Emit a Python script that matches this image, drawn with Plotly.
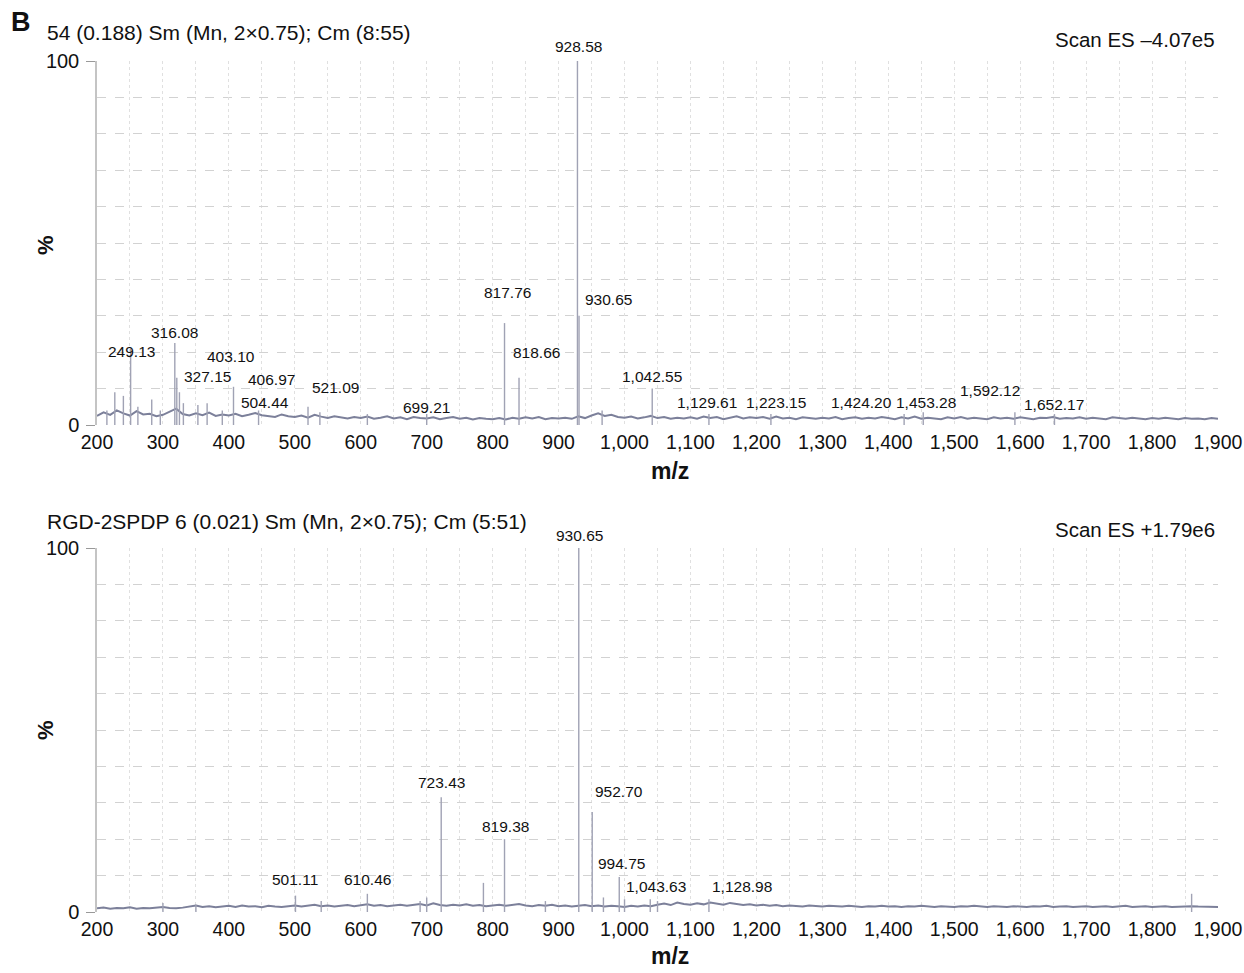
import plotly.graph_objects as go

W, H = 1244, 973

# ---------------- data ----------------
mz_ticks = [200, 300, 400, 500, 600, 700, 800, 900, 1000, 1100, 1200, 1300,
            1400, 1500, 1600, 1700, 1800, 1900]
tick_text = [f"{v:,}" for v in mz_ticks]

# baseline noise, sampled every 10 m/z from 200 to 1900 (hand-read levels, %)
noise_mz = list(range(200, 1901, 10))
top_noise = [
    2.5, 3.5, 2.8, 4.0, 3.2, 2.6, 3.8, 2.9, 3.1, 2.4,
    2.8, 3.6, 4.5, 3.0, 2.6, 3.2, 2.7, 3.4, 2.5, 2.9,
    2.6, 3.1, 2.4, 2.8, 3.3, 2.7, 2.5, 2.2, 2.9, 2.4,
    2.2, 2.6, 2.0, 2.8, 2.3, 1.9, 2.4, 2.1, 1.8, 2.2,
    1.9, 2.3, 1.7, 2.0, 2.4, 1.8, 2.1, 1.6, 2.2, 1.9,
    1.8, 2.1, 1.6, 1.9, 2.2, 1.7, 2.0, 1.5, 1.9, 1.7,
    1.6, 1.9, 1.5, 2.0, 1.7, 2.1, 1.8, 2.2, 1.6, 1.9,
    1.8, 2.0, 1.7, 2.4, 1.9, 2.6, 3.2, 2.5, 2.8, 2.2,
    2.0, 2.3, 1.8, 2.1, 2.5, 1.9, 2.2, 1.7, 2.0, 1.8,
    2.1, 1.7, 2.3, 1.9, 2.2, 1.6, 2.0, 2.4, 1.8, 2.1,
    1.9, 2.2, 1.7, 2.3, 1.8, 2.0, 1.6, 2.1, 1.9, 1.7,
    2.0, 1.8, 2.2, 1.6, 1.9, 2.1, 1.7, 2.0, 1.8, 2.2,
    1.9, 1.6, 2.1, 1.8, 2.3, 1.7, 2.0, 1.9, 1.6, 2.1,
    1.8, 2.2, 1.7, 2.0, 1.9, 1.6, 2.1, 1.8, 2.0, 1.7,
    2.1, 1.8, 1.6, 2.0, 1.9, 2.2, 1.7, 1.9, 1.8, 2.1,
    1.7, 2.0, 1.8, 1.6, 2.1, 1.9, 1.7, 2.0, 1.8, 1.6,
    1.9, 1.7, 2.0, 1.8, 1.6, 1.9, 1.7, 1.8, 1.6, 1.9,
    1.7,
]
bot_noise = [
    1.0, 1.2, 0.9, 1.1, 1.0, 1.3, 0.9, 1.1, 1.0, 1.2,
    1.4, 1.1, 1.0, 1.2, 1.5, 1.8, 1.4, 1.6, 1.3, 1.5,
    1.7, 1.4, 1.8, 1.5, 1.6, 1.3, 1.7, 1.5, 1.4, 1.6,
    1.8, 1.5, 1.7, 2.0, 1.6, 1.8, 1.5, 1.7, 1.9, 1.6,
    1.8, 2.1, 1.7, 1.9, 1.6, 1.8, 2.0, 1.7, 1.9, 2.2,
    1.8, 2.4, 1.9, 1.7, 2.0, 1.8, 2.1, 1.7, 1.9, 1.6,
    1.8, 2.0, 1.7, 1.9, 2.2, 1.8, 1.6, 1.9, 1.7, 2.0,
    1.6, 1.8, 1.5, 1.7, 1.9, 1.6, 1.8, 1.5, 1.7, 1.6,
    1.4, 1.7, 1.5, 1.8, 1.6, 2.0, 2.3, 1.9, 2.6, 2.2,
    2.0, 2.4, 2.1, 2.6, 2.3, 2.0, 2.5, 2.2, 1.9, 2.1,
    1.8, 2.0, 1.7, 1.9, 1.6, 1.8, 1.7, 1.5, 1.8, 1.6,
    1.5, 1.7, 1.6, 1.5, 1.7, 1.6, 1.4, 1.6, 1.5, 1.7,
    1.5, 1.6, 1.4, 1.6, 1.5, 1.7, 1.5, 1.4, 1.6, 1.5,
    1.4, 1.6, 1.5, 1.7, 1.5, 1.4, 1.6, 1.5, 1.4, 1.6,
    1.5, 1.4, 1.6, 1.5, 1.7, 1.4, 1.5, 1.6, 1.4, 1.5,
    1.6, 1.4, 1.5, 1.6, 1.4, 1.5, 1.7, 1.4, 1.5, 1.6,
    1.4, 1.5, 1.6, 1.4, 1.5, 1.4, 1.6, 1.5, 1.4, 1.5,
    1.4,
]

# peaks (m/z, relative intensity %)
top_peak_mz = [215, 227, 240, 251, 262, 283, 296, 318, 321, 325, 331, 353, 367,
               390, 407, 445, 520, 538, 610, 700, 818, 840, 928.6, 931, 966,
               1042, 1128, 1222, 1424, 1453, 1592, 1652]
top_peak_int = [4, 9, 8, 21, 5, 7, 4, 22.5, 13, 9, 6, 5.5, 6,
                4, 10.5, 4, 5, 3.5, 3, 3, 28, 13, 100, 30, 4,
                10, 3, 3, 3, 3.5, 3.5, 3]

bot_peak_mz = [300, 350, 501, 540, 610, 690, 700, 722, 786, 818, 880, 930.6,
               951, 968, 992, 1000, 1039, 1050, 1128, 1860]
bot_peak_int = [2.5, 2, 4.5, 3, 5, 3, 4, 31.5, 8, 20, 3, 100,
                27.5, 4, 9.6, 3.5, 3.5, 3, 3.5, 5]

# peak labels: text, position (m/z, %)
top_lbl_text = ["928.58", "930.65", "817.76", "818.66", "316.08", "249.13",
                "403.10", "327.15", "406.97", "521.09", "504.44", "699.21",
                "1,042.55", "1,129.61", "1,223.15", "1,424.20", "1,453.28",
                "1,592.12", "1,652.17"]
top_lbl_x = [929.5, 975, 823, 866, 318, 252, 403, 368, 464, 561, 455, 700,
             1042, 1125, 1230, 1359, 1457, 1554, 1651]
top_lbl_y = [104.1, 34.6, 36.5, 19.8, 25.3, 20.1, 18.7, 13.2, 12.4, 10.4, 6.3,
             4.9, 13.2, 6.3, 6.3, 6.3, 6.3, 9.6, 5.5]

bot_lbl_text = ["930.65", "723.43", "952.70", "819.38", "994.75", "1,043.63",
                "501.11", "610.46", "1,128.98"]
bot_lbl_x = [931, 722, 992, 819, 995, 1048, 500, 610, 1178]
bot_lbl_y = [103.3, 35.7, 33.2, 23.6, 13.2, 6.9, 8.8, 8.8, 6.9]

top_header = "54 (0.188) Sm (Mn, 2×0.75); Cm (8:55)"
top_scan = "Scan ES –4.07e5"
bot_header = "RGD-2SPDP 6 (0.021) Sm (Mn, 2×0.75); Cm (5:51)"
bot_scan = "Scan ES +1.79e6"

# ---------------- figure ----------------
FONT = "Liberation Sans, Arial, sans-serif"
SPEC = "#a0a2b4"
NOISE = "#7c809a"


def px_x(p):
    return p / W


def px_y(p):
    return 1 - p / H


def sticks(mz, inten):
    xs, ys = [], []
    for m, i in zip(mz, inten):
        xs += [m, m, None]
        ys += [0, i, None]
    return xs, ys


fig = go.Figure()

for (pmz, pint, noise, xa, ya) in [
    (top_peak_mz, top_peak_int, top_noise, "x", "y"),
    (bot_peak_mz, bot_peak_int, bot_noise, "x2", "y2"),
]:
    fig.add_trace(go.Scatter(x=noise_mz, y=noise, mode="lines",
                             line=dict(color=NOISE, width=2),
                             xaxis=xa, yaxis=ya, hoverinfo="skip",
                             showlegend=False))
    xs, ys = sticks(pmz, pint)
    fig.add_trace(go.Scatter(x=xs, y=ys, mode="lines",
                             line=dict(color=SPEC, width=1.4),
                             xaxis=xa, yaxis=ya, hoverinfo="skip",
                             showlegend=False))

xdom = [px_x(97), px_x(1218)]
top_dom = [px_y(425), px_y(61)]
bot_dom = [px_y(912), px_y(548)]
GRID = "#d2d2d2"
GRIDV = "#e0e0e0"

xcommon = dict(range=[200, 1900], tickmode="array", tickvals=mz_ticks,
               ticktext=tick_text, showgrid=True, gridcolor=GRIDV,
               griddash="dot", gridwidth=1, zeroline=False, showline=False,
               ticks="", automargin=False, ticklabelstandoff=3,
               tickfont=dict(family=FONT, size=19.5, color="#111"),
               minor=dict(dtick=50, tick0=200, showgrid=True,
                          gridcolor=GRIDV, griddash="dot", gridwidth=1))
ycommon = dict(range=[0, 100], tickmode="array", tickvals=[0, 100],
               ticktext=["0", "100"], showgrid=True, gridcolor=GRID,
               griddash="dash", gridwidth=1, zeroline=False,
               showline=True, linecolor="#c4c4c4", linewidth=1.5,
               ticks="outside", ticklen=9, tickcolor="#999",
               automargin=False, ticklabelstandoff=3,
               tickfont=dict(family=FONT, size=20, color="#111"),
               minor=dict(dtick=10, tick0=0, showgrid=True, gridcolor=GRID,
                          griddash="dash", gridwidth=1))

fig.update_layout(
    width=W, height=H,
    margin=dict(l=0, r=0, t=0, b=0),
    paper_bgcolor="white", plot_bgcolor="white",
    xaxis=dict(domain=xdom, anchor="y", **xcommon),
    yaxis=dict(domain=top_dom, anchor="x", **ycommon),
    xaxis2=dict(domain=xdom, anchor="y2", **xcommon),
    yaxis2=dict(domain=bot_dom, anchor="x2", **ycommon),
)

ann = []
ann.append(dict(text="<b>B</b>", x=px_x(21), y=px_y(22), xref="paper",
                yref="paper", xanchor="center", yanchor="middle",
                showarrow=False, font=dict(family=FONT, size=27, color="#111")))
for txt, yc in [(top_header, 33), (bot_header, 521)]:
    ann.append(dict(text=txt, x=px_x(45), y=px_y(yc), xref="paper",
                    yref="paper", xanchor="left", yanchor="middle",
                    showarrow=False,
                    font=dict(family=FONT, size=21, color="#111")))
for txt, yc in [(top_scan, 39), (bot_scan, 529)]:
    ann.append(dict(text=txt, x=px_x(1217), y=px_y(yc), xref="paper",
                    yref="paper", xanchor="right", yanchor="middle",
                    showarrow=False,
                    font=dict(family=FONT, size=20.5, color="#111")))
# axis titles
for yc in [245, 730]:
    ann.append(dict(text="<b>%</b>", x=px_x(45), y=px_y(yc), xref="paper",
                    yref="paper", xanchor="center", yanchor="middle",
                    textangle=-90, showarrow=False,
                    font=dict(family=FONT, size=22, color="#111")))
for yc in [471, 956]:
    ann.append(dict(text="<b>m/z</b>", x=px_x(670), y=px_y(yc), xref="paper",
                    yref="paper", xanchor="center", yanchor="middle",
                    showarrow=False,
                    font=dict(family=FONT, size=23, color="#111")))

# peak labels: x on the m/z axis, y converted from % into paper units so
# labels above 100 % stay visible
for texts, xs, ys, xr, dom in [
    (top_lbl_text, top_lbl_x, top_lbl_y, "x", top_dom),
    (bot_lbl_text, bot_lbl_x, bot_lbl_y, "x2", bot_dom),
]:
    for t, x, y in zip(texts, xs, ys):
        yp = dom[0] + (dom[1] - dom[0]) * y / 100.0
        ann.append(dict(text=t, x=x, y=yp, xref=xr, yref="paper",
                        showarrow=False, xanchor="center", yanchor="middle",
                        font=dict(family=FONT, size=15.5, color="#111")))

fig.update_layout(annotations=ann)

fig.write_html("out.html",
               config={"displayModeBar": False},
               post_script="document.body.style.margin='0px';"
                           "document.body.style.overflow='hidden';")
